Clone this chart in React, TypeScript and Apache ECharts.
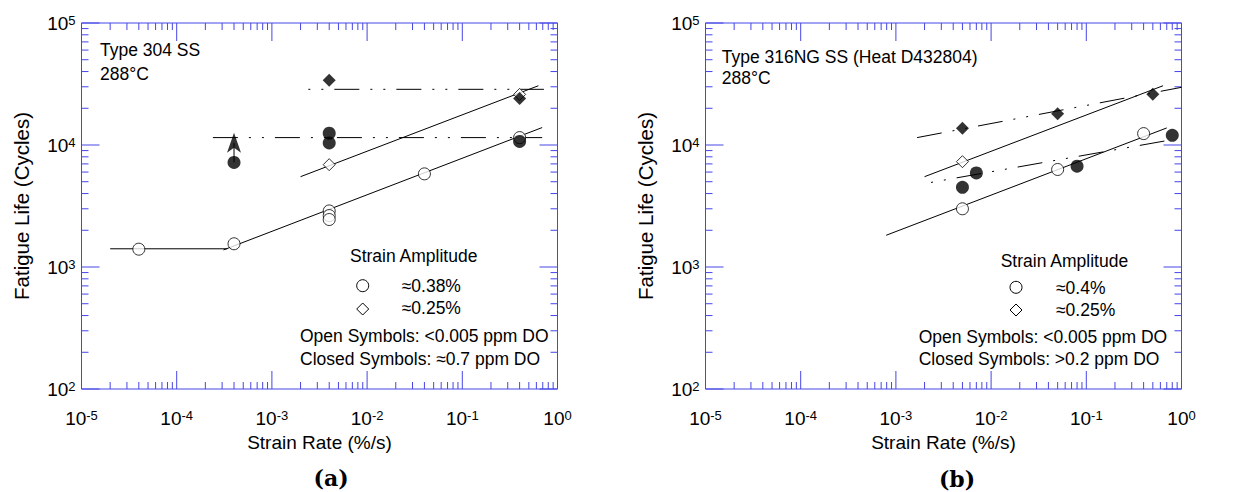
import React, { useEffect, useRef } from "react";
import * as echarts from "echarts";

// ---- Axis ticks ----
const xDecades = [1e-5, 1e-4, 1e-3, 1e-2, 1e-1, 1];
const yDecades = [1e2, 1e3, 1e4, 1e5];
const minorMultipliers = [2, 3, 4, 5, 6, 7, 8, 9];

// ---- Panel (a): Type 304 SS ----
const aOpenCircles = [[4e-5, 1400], [4e-4, 1550], [4e-3, 2880], [4e-3, 2640], [4e-3, 2450], [0.04, 5800], [0.4, 11500]];
const aClosedCircles = [[4e-4, 7200], [4e-3, 12500], [4e-3, 10400], [0.4, 10700]];
const aOpenDiamonds = [[4e-3, 6900], [0.4, 26000]];
const aClosedDiamonds = [[4e-3, 34000], [0.4, 24000]];
const aFitFlat = [[2e-5, 1410], [3.4e-4, 1410]];
const aFitCircle = [[3.1e-4, 1380], [0.69, 13900]];
const aFitDiamond = [[2e-3, 5500], [0.63, 30600]];
const aDashDiamond = [[1.85e-3, 28600], [0.72, 28600]];
const aDashCircle = [[2.4e-4, 11500], [0.69, 11500]];
const aArrowShaft = [[4e-4, 7200], [4e-4, 10400]];
const aArrowTip = [[4e-4, 12600]];

// ---- Panel (b): Type 316NG SS ----
const bOpenCircles = [[5e-3, 3000], [0.05, 6300], [0.4, 12400]];
const bClosedCircles = [[5e-3, 4500], [7e-3, 5900], [0.08, 6700], [0.8, 12000]];
const bOpenDiamonds = [[5e-3, 7300]];
const bClosedDiamonds = [[5e-3, 13700], [0.05, 18000], [0.5, 26000]];
const bFitCircle = [[7.9e-4, 1820], [0.7, 13800]];
const bFitDiamond = [[2e-3, 5500], [0.64, 30600]];
const bDashDiamond = [[1.67e-3, 11500], [1.0, 29700]];
const bDashCircle = [[1.8e-3, 4760], [0.82, 11100]];

const FONT = "'Liberation Sans', Arial, Helvetica, sans-serif";
const SERIF = "'DejaVu Serif', 'Liberation Serif', serif";
const AXIS_COLOR = "#4646e6";
const DASH_DOT_DOT = [25, 11, 2, 11, 2, 11];

const tickItems: number[][] = [];
xDecades.forEach((v) => tickItems.push([v, 1000, 0, 1]));
xDecades.slice(0, -1).forEach((d) => minorMultipliers.forEach((m) => tickItems.push([d * m, 1000, 0, 0])));
yDecades.forEach((v) => tickItems.push([1e-3, v, 1, 1]));
yDecades.slice(0, -1).forEach((d) => minorMultipliers.forEach((m) => tickItems.push([1e-3, d * m, 1, 0])));

const powLabel = (v: number) => `{b|10}{s|${Math.round(Math.log10(v))}}`;
const richLabel = {
  b: { fontSize: 19, fontFamily: FONT, color: "#000", lineHeight: 19, verticalAlign: "middle" },
  s: { fontSize: 13, fontFamily: FONT, color: "#000", lineHeight: 11, verticalAlign: "top" },
};

function makeXAxis(gi: number) {
  return {
    type: "log",
    logBase: 10,
    gridIndex: gi,
    min: 1e-5,
    max: 1,
    axisLine: { show: false },
    axisTick: { show: false },
    splitLine: { show: false },
    axisLabel: { formatter: powLabel, rich: richLabel, margin: 20, showMinLabel: true, showMaxLabel: true },
    name: "Strain Rate (%/s)",
    nameLocation: "middle",
    nameGap: 42,
    nameTextStyle: { fontSize: 19, fontFamily: FONT, color: "#000" },
  };
}

function makeYAxis(gi: number) {
  return {
    type: "log",
    logBase: 10,
    gridIndex: gi,
    min: 100,
    max: 100000,
    axisLine: { show: false },
    axisTick: { show: false },
    splitLine: { show: false },
    axisLabel: { formatter: powLabel, rich: richLabel, margin: 6, showMinLabel: true, showMaxLabel: true },
    name: "Fatigue Life (Cycles)",
    nameLocation: "middle",
    nameGap: 50,
    nameTextStyle: { fontSize: 20.5, fontFamily: FONT, color: "#000" },
  };
}

function tickSeries(gi: number) {
  return {
    type: "custom",
    xAxisIndex: gi,
    yAxisIndex: gi,
    silent: true,
    encode: { x: 0, y: 1 },
    data: tickItems,
    z: 1,
    renderItem: (params: any, api: any) => {
      const kind = api.value(2);
      const L = api.value(3) ? 18 : 7;
      const cs = params.coordSys;
      const st = { stroke: AXIS_COLOR, lineWidth: 1 };
      if (kind === 0) {
        const px = api.coord([api.value(0), 1000])[0];
        return {
          type: "group",
          children: [
            { type: "line", shape: { x1: px, y1: cs.y + cs.height, x2: px, y2: cs.y + cs.height - L }, style: st },
            { type: "line", shape: { x1: px, y1: cs.y, x2: px, y2: cs.y + L }, style: st },
          ],
        };
      }
      const py = api.coord([1e-3, api.value(1)])[1];
      return {
        type: "group",
        children: [
          { type: "line", shape: { x1: cs.x, y1: py, x2: cs.x + L, y2: py }, style: st },
          { type: "line", shape: { x1: cs.x + cs.width, y1: py, x2: cs.x + cs.width - L, y2: py }, style: st },
        ],
      };
    },
  };
}

function lineSeries(gi: number, data: number[][], type: any, dashOffset = 0) {
  return {
    type: "line",
    xAxisIndex: gi,
    yAxisIndex: gi,
    data,
    showSymbol: false,
    symbol: "none",
    silent: true,
    z: 2,
    lineStyle: { color: "#000", width: 1, type, dashOffset },
  };
}

function scatterSeries(gi: number, data: number[][], symbol: string, size: any, open: boolean) {
  return {
    type: "scatter",
    xAxisIndex: gi,
    yAxisIndex: gi,
    data,
    symbol,
    symbolSize: size,
    silent: true,
    z: 3,
    itemStyle: open
      ? { color: "#fff", borderColor: "#000", borderWidth: 1 }
      : { color: "#000", borderColor: "#000", borderWidth: 0 },
  };
}

function txt(text: string, x: number, y: number, fontSize = 17.5, align = "left", family = FONT, weight = "normal") {
  return {
    type: "text",
    x,
    y,
    silent: true,
    style: { text, fontSize, fontFamily: family, fontWeight: weight, fill: "#000", align, verticalAlign: "middle" },
  };
}

function diamond(cx: number, cy: number, r: number) {
  return {
    type: "polygon",
    silent: true,
    shape: { points: [[cx, cy - r], [cx + r, cy], [cx, cy + r], [cx - r, cy]] },
    style: { fill: "#fff", stroke: "#000", lineWidth: 1 },
  };
}

function circle(cx: number, cy: number, r: number) {
  return {
    type: "circle",
    silent: true,
    shape: { cx, cy, r },
    style: { fill: "#fff", stroke: "#000", lineWidth: 1 },
  };
}

export default function App() {
  const ref = useRef<HTMLDivElement>(null);
  useEffect(() => {
    if (!ref.current) return;
    const chart = echarts.init(ref.current, undefined, { renderer: "svg" });
    const option: any = {
      animation: false,
      backgroundColor: "#fff",
      grid: [
        { left: 81.5, top: 23, width: 476, height: 366, show: true, borderColor: AXIS_COLOR, borderWidth: 1, backgroundColor: "transparent" },
        { left: 705.5, top: 23, width: 476, height: 366, show: true, borderColor: AXIS_COLOR, borderWidth: 1, backgroundColor: "transparent" },
      ],
      xAxis: [makeXAxis(0), makeXAxis(1)],
      yAxis: [makeYAxis(0), makeYAxis(1)],
      series: [
        tickSeries(0),
        tickSeries(1),
        // panel (a)
        lineSeries(0, aFitFlat, "solid"),
        lineSeries(0, aFitCircle, "solid"),
        lineSeries(0, aFitDiamond, "solid"),
        lineSeries(0, aDashDiamond, DASH_DOT_DOT, 25),
        lineSeries(0, aDashCircle, DASH_DOT_DOT, 0),
        lineSeries(0, aArrowShaft, "solid"),
        // ECharts' arrow symbol has its tip at the data point
        scatterSeries(0, aArrowTip, "arrow", [10.5, 20], false),
        scatterSeries(0, aOpenCircles, "circle", 12, true),
        scatterSeries(0, aOpenDiamonds, "diamond", 12, true),
        scatterSeries(0, aClosedCircles, "circle", 13, false),
        scatterSeries(0, aClosedDiamonds, "diamond", 13, false),
        // panel (b)
        lineSeries(1, bFitCircle, "solid"),
        lineSeries(1, bFitDiamond, "solid"),
        lineSeries(1, bDashDiamond, DASH_DOT_DOT, 0),
        lineSeries(1, bDashCircle, DASH_DOT_DOT, 25),
        scatterSeries(1, bOpenCircles, "circle", 12, true),
        scatterSeries(1, bOpenDiamonds, "diamond", 12, true),
        scatterSeries(1, bClosedCircles, "circle", 13, false),
        scatterSeries(1, bClosedDiamonds, "diamond", 13, false),
      ],
      graphic: [
        // panel (a) annotations
        txt("Type 304 SS", 100, 50),
        txt("288°C", 100, 74),
        txt("Strain Amplitude", 350, 256),
        circle(362.7, 285.7, 6),
        txt("≈0.38%", 401.7, 286),
        diamond(362.7, 309, 6),
        txt("≈0.25%", 401.7, 308),
        txt("Open Symbols: <0.005 ppm DO", 300, 335.5),
        txt("Closed Symbols: ≈0.7 ppm DO", 300, 358.5),
        txt("(a)", 331, 478, 22, "center", SERIF, "bold"),
        // panel (b) annotations
        txt("Type 316NG SS (Heat D432804)", 721.7, 56.5),
        txt("288°C", 721.7, 77.5),
        txt("Strain Amplitude", 1000.7, 260.5),
        circle(1016, 287.3, 6),
        txt("≈0.4%", 1056, 287.5),
        diamond(1016, 310, 6),
        txt("≈0.25%", 1056, 310),
        txt("Open Symbols: <0.005 ppm DO", 918.7, 337),
        txt("Closed Symbols: >0.2 ppm DO", 918.7, 359),
        txt("(b)", 957, 479, 22, "center", SERIF, "bold"),
      ],
    };
    chart.setOption(option);
    return () => chart.dispose();
  }, []);
  return (
    <div
      ref={ref}
      style={{ position: "absolute", left: 0, top: 0, width: 1247, height: 492, background: "#fff" }}
    />
  );
}
